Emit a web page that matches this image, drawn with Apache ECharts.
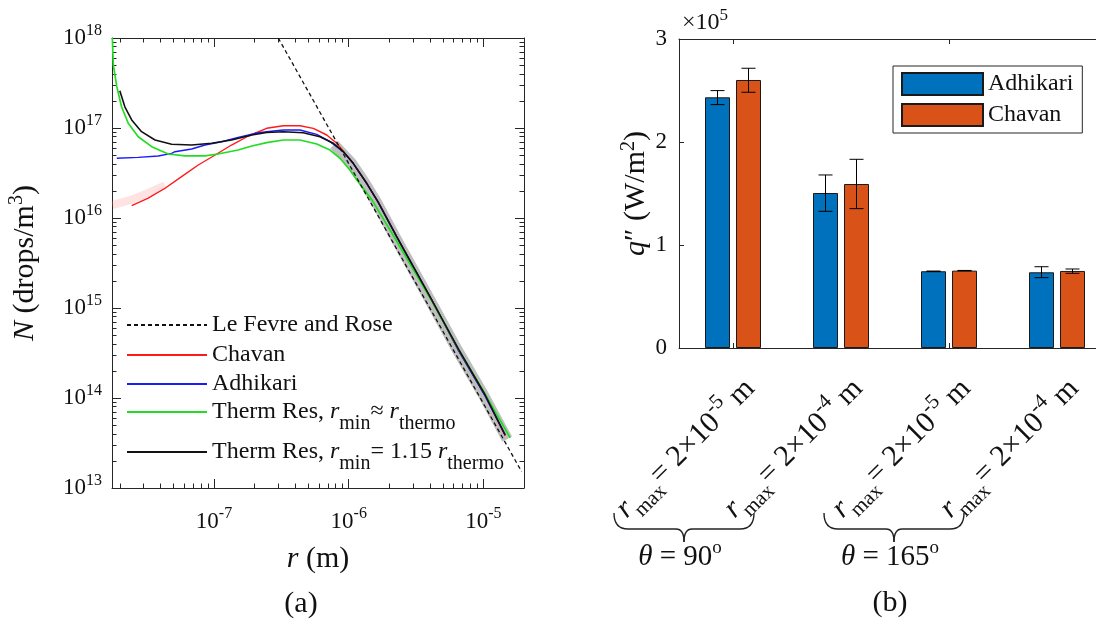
<!DOCTYPE html>
<html>
<head>
<meta charset="utf-8">
<script src="https://cdn.jsdelivr.net/npm/echarts@6/dist/echarts.min.js"></script>
<style>html,body{margin:0;padding:0;background:#fff}#c{width:1096px;height:621px}</style>
</head>
<body>
<div id="c"></div>
<script>
// ================= DATA =================
// (a) Droplet size distribution: pairs of [r (m), N (drops/m^3)]
const leFevreRose = [[3.0e-7, 1.0e18], [1.92e-5, 1.52e13]];
const chavanCurve = [
  [2.45e-8, 1.37e16], [3.25e-8, 1.66e16], [4.33e-8, 2.14e16], [5.75e-8, 2.88e16],
  [7.64e-8, 3.88e16], [1.02e-7, 5.01e16], [1.35e-7, 6.47e16], [1.80e-7, 8.15e16],
  [2.46e-7, 9.92e16], [3.27e-7, 1.06e17], [4.35e-7, 1.06e17], [5.46e-7, 9.92e16],
  [6.87e-7, 8.36e16], [8.15e-7, 6.76e16], [1.08e-6, 4.05e16], [1.36e-6, 2.43e16],
  [1.65e-6, 1.51e16], [2.27e-6, 6.2e15], [4.13e-6, 1.23e15], [6.59e-6, 3.3e14],
  [1.03e-5, 1.06e14], [1.45e-5, 3.8e13]
];
const adhikariCurve = [
  [1.90e-8, 4.61e16], [2.74e-8, 4.72e16], [3.86e-8, 4.89e16], [4.85e-8, 5.23e16],
  [5.13e-8, 5.45e16], [6.83e-8, 5.85e16], [8.57e-8, 6.47e16], [1.14e-7, 7.04e16],
  [1.51e-7, 7.88e16], [2.02e-7, 8.73e16], [2.46e-7, 9.10e16], [3.27e-7, 9.50e16],
  [4.35e-7, 9.50e16], [5.79e-7, 8.51e16], [7.26e-7, 7.04e16], [9.12e-7, 5.45e16],
  [1.08e-6, 4.05e16], [1.36e-6, 2.43e16], [1.65e-6, 1.51e16], [2.27e-6, 6.2e15],
  [4.13e-6, 1.23e15], [6.59e-6, 3.3e14], [1.03e-5, 1.05e14], [1.45e-5, 3.9e13]
];
const thermResApprox = [
  [1.76e-8, 1.0e18], [1.79e-8, 5.0e17], [1.90e-8, 2.88e17], [2.06e-8, 1.72e17],
  [2.31e-8, 1.13e17], [2.74e-8, 8.0e16], [3.45e-8, 6.2e16], [4.58e-8, 5.14e16],
  [6.09e-8, 4.89e16], [8.57e-8, 4.89e16], [1.07e-7, 5.14e16], [1.51e-7, 5.69e16],
  [1.91e-7, 6.31e16], [2.46e-7, 6.87e16], [3.27e-7, 7.36e16], [4.35e-7, 7.36e16],
  [5.79e-7, 6.64e16], [7.26e-7, 5.69e16], [8.62e-7, 4.61e16], [1.02e-6, 3.41e16],
  [1.15e-6, 2.64e16], [1.49e-6, 1.58e16], [2.2e-6, 6.0e15], [4.13e-6, 1.2e15],
  [6.59e-6, 3.4e14], [1.03e-5, 1.1e14], [1.58e-5, 3.6e13]
];
const thermRes115 = [
  [2.00e-8, 2.60e17], [2.18e-8, 1.72e17], [2.45e-8, 1.23e17], [2.90e-8, 9.10e16],
  [3.65e-8, 7.36e16], [4.85e-8, 6.59e16], [6.83e-8, 6.47e16], [9.61e-8, 6.76e16],
  [1.35e-7, 7.36e16], [1.91e-7, 8.36e16], [2.46e-7, 8.9e16], [3.27e-7, 9.1e16],
  [4.60e-7, 8.87e16], [6.12e-7, 8.0e16], [7.69e-7, 6.76e16], [9.12e-7, 5.45e16],
  [1.08e-6, 4.05e16], [1.36e-6, 2.43e16], [1.65e-6, 1.51e16], [2.27e-6, 6.2e15],
  [4.13e-6, 1.23e15], [6.59e-6, 3.41e14], [1.03e-5, 1.08e14], [1.45e-5, 3.88e13]
];
// shaded uncertainty bands (centre lines)
const grayBand = [
  [7.8e-7, 6.5e16], [1.05e-6, 4.05e16], [1.32e-6, 2.43e16], [1.60e-6, 1.51e16],
  [2.20e-6, 6.2e15], [4.0e-6, 1.23e15], [6.4e-6, 3.41e14], [1.0e-5, 1.08e14], [1.5e-5, 3.5e13]
];
const chavanBand = [
  [1.76e-8, 1.39e16], [2.45e-8, 1.6e16], [3.25e-8, 1.9e16], [4.33e-8, 2.3e16]
];

// (b) Heat flux q'' (W/m^2)
const barCategories = ['θ=90°, r_max=2e-5 m', 'θ=90°, r_max=2e-4 m', 'θ=165°, r_max=2e-5 m', 'θ=165°, r_max=2e-4 m'];
const rmaxExponent = [-5, -4, -5, -4];
const thetaGroups = [{label: '90', first: 0, last: 1}, {label: '165', first: 2, last: 3}];
const adhikariQ     = [243400, 150500, 74500, 73500];
const adhikariQLow  = [236300, 132700, 74300, 68300];
const adhikariQHigh = [249900, 168000, 74700, 78900];
const chavanQ       = [260200, 159200, 75100, 74800];
const chavanQLow    = [248300, 135300, 74900, 72500];
const chavanQHigh   = [271600, 183200, 75300, 76700];

// ================= STYLE =================
const FONT = "'Liberation Serif', 'Times New Roman', serif";
const INK = '#111';
const AXIS = '#262626';
const xMinR = 1.75e-8, xMaxR = 2.0e-5, yMinN = 1e13, yMaxN = 1e18;

function minorLogTicks(lo, hi) {
  const out = [], a = Math.log10(lo), b = Math.log10(hi);
  for (let n = Math.floor(a); n <= Math.ceil(b); n++) {
    for (let k = 2; k <= 9; k++) {
      const v = Math.log10(k) + n;
      if (v > a && v < b) out.push(v);
    }
  }
  return out;
}
function decadeLabel(v) {
  const e = Math.log10(v), n = Math.round(e);
  if (Math.abs(e - n) > 1e-6) return '';
  return '{b|10}{s|' + n + '}';
}
const expRich = {
  b: {fontFamily: FONT, fontSize: 23, lineHeight: 23, verticalAlign: 'bottom', color: INK},
  s: {fontFamily: FONT, fontSize: 16, lineHeight: 16, verticalAlign: 'bottom', padding: [0, 0, 11, 0], color: INK}
};
const titleRich = {
  t: {fontFamily: FONT, fontSize: 30, lineHeight: 30, verticalAlign: 'bottom', color: INK},
  i: {fontFamily: FONT, fontSize: 30, lineHeight: 30, verticalAlign: 'bottom', fontStyle: 'italic', color: INK},
  s: {fontFamily: FONT, fontSize: 20, lineHeight: 20, verticalAlign: 'bottom', padding: [0, 0, 13, 0], color: INK}
};
const rotRich = {
  t: {fontFamily: FONT, fontSize: 30, lineHeight: 30, verticalAlign: 'top', padding: [10, 0, 0, 0], color: INK},
  i: {fontFamily: FONT, fontSize: 30, lineHeight: 30, verticalAlign: 'top', padding: [10, 0, 0, 0], fontStyle: 'italic', color: INK},
  sub: {fontFamily: FONT, fontSize: 21, lineHeight: 21, verticalAlign: 'top', padding: [27, 0, 0, 0], color: INK},
  sup: {fontFamily: FONT, fontSize: 21, lineHeight: 21, verticalAlign: 'top', padding: [4, 0, 0, 0], color: INK}
};
const legRich = {
  t: {fontFamily: FONT, fontSize: 24, lineHeight: 24, verticalAlign: 'top', color: INK},
  i: {fontFamily: FONT, fontSize: 24, lineHeight: 24, verticalAlign: 'top', fontStyle: 'italic', color: INK},
  sub: {fontFamily: FONT, fontSize: 20, lineHeight: 20, verticalAlign: 'top', padding: [14, 0, 0, 0], color: INK}
};
const legendText = {
  'Le Fevre and Rose': '{t|Le Fevre and Rose}',
  'Chavan': '{t|Chavan}',
  'Adhikari': '{t|Adhikari}',
  'Therm Res, r_min≈r_thermo': '{t|Therm Res, }{i|r}{sub|min}{t|≈ }{i|r}{sub|thermo}',
  'Therm Res, r_min=1.15 r_thermo': '{t|Therm Res, }{i|r}{sub|min}{t|= 1.15 }{i|r}{sub|thermo}'
};
const barLegendText = {'Adhikari heat flux': 'Adhikari', 'Chavan heat flux': 'Chavan'};

const axisLine = {show: true, onZero: false, lineStyle: {color: AXIS, width: 1}};
const tickStyle = {color: AXIS, width: 1};
const xMinor = minorLogTicks(xMinR, xMaxR);
const yMinor = minorLogTicks(yMinN, yMaxN);

function majorLogAxis(extra) {
  return Object.assign({
    type: 'log', logBase: 10, axisLine: axisLine,
    axisTick: {show: true, inside: true, length: 9, lineStyle: tickStyle},
    minorTick: {show: false}, splitLine: {show: false}, axisLabel: {show: false}
  }, extra);
}
function minorAxis(extra) {
  return Object.assign({
    type: 'value', axisLine: {show: false, onZero: false},
    axisTick: {show: true, inside: true, length: 4.5, lineStyle: tickStyle},
    axisLabel: {show: false}, splitLine: {show: false}, minorTick: {show: false}
  }, extra);
}
function lineSeries(name, data, color, width, extra) {
  return Object.assign({
    name, type: 'line', xAxisIndex: 0, yAxisIndex: 0, data,
    symbol: 'none', smooth: false, silent: true,
    lineStyle: {color, width}, itemStyle: {color}
  }, extra || {});
}
function errorBars(name, low, high, offset) {
  return {
    type: 'custom', name, xAxisIndex: 4, yAxisIndex: 4, z: 10, silent: true,
    data: low.map((lo, i) => [i, lo, high[i]]),
    renderItem(params, api) {
      const i = api.value(0);
      const top = api.coord([i, api.value(2)]);
      const bot = api.coord([i, api.value(1)]);
      const x = top[0] + offset, cap = 7;
      const style = {stroke: '#000', lineWidth: 1, fill: null};
      return {type: 'group', children: [
        {type: 'line', shape: {x1: x, y1: top[1], x2: x, y2: bot[1]}, style},
        {type: 'line', shape: {x1: x - cap, y1: top[1], x2: x + cap, y2: top[1]}, style},
        {type: 'line', shape: {x1: x - cap, y1: bot[1], x2: x + cap, y2: bot[1]}, style}
      ]};
    }
  };
}
const lineLegendRows = [
  {name: 'Le Fevre and Rose', top: 313},
  {name: 'Chavan', top: 343},
  {name: 'Adhikari', top: 372},
  {name: 'Therm Res, r_min≈r_thermo', top: 400},
  {name: 'Therm Res, r_min=1.15 r_thermo', top: 440}
];

const option = {
  animation: false,
  backgroundColor: '#fff',
  grid: [
    {left: 112, top: 38, width: 412, height: 450, outerBoundsMode: 'none', containLabel: false},
    {left: 679, top: 39, width: 432, height: 309, outerBoundsMode: 'none', containLabel: false},
    {left: 689, top: 39, width: 432, height: 309, outerBoundsMode: 'none', containLabel: false}
  ],
  xAxis: [
    majorLogAxis({gridIndex: 0, position: 'bottom', min: xMinR, max: xMaxR,
      axisLabel: {show: true, margin: 22, formatter: decadeLabel, rich: expRich},
      name: '{i|r}{t| (m)}', nameLocation: 'middle', nameGap: 56, nameTextStyle: {rich: titleRich}}),
    majorLogAxis({gridIndex: 0, position: 'top', min: xMinR, max: xMaxR}),
    minorAxis({gridIndex: 0, position: 'bottom', min: Math.log10(xMinR), max: Math.log10(xMaxR),
      axisTick: {show: true, inside: true, length: 4.5, lineStyle: tickStyle, customValues: xMinor}}),
    minorAxis({gridIndex: 0, position: 'top', min: Math.log10(xMinR), max: Math.log10(xMaxR),
      axisTick: {show: true, inside: true, length: 4.5, lineStyle: tickStyle, customValues: xMinor}}),
    {type: 'category', gridIndex: 1, position: 'bottom', data: barCategories, axisLine: axisLine,
      axisTick: {show: true, inside: true, alignWithLabel: true, length: 5, lineStyle: tickStyle},
      axisLabel: {show: false}, splitLine: {show: false}},
    {type: 'category', gridIndex: 1, position: 'top', data: barCategories, axisLine: axisLine,
      axisTick: {show: true, inside: true, alignWithLabel: true, length: 5, lineStyle: tickStyle},
      axisLabel: {show: false}, splitLine: {show: false}},
    {type: 'category', gridIndex: 2, position: 'bottom', data: barCategories,
      axisLine: {show: false}, axisTick: {show: false}, splitLine: {show: false},
      axisLabel: {show: true, interval: 0, rotate: 45, margin: 29, rich: rotRich,
        formatter: (v, i) => '{i|r}{sub|max}{t|= 2×10}{sup|' + rmaxExponent[i] + '}{t| m}'}}
  ],
  yAxis: [
    majorLogAxis({gridIndex: 0, position: 'left', min: yMinN, max: yMaxN,
      axisLabel: {show: true, margin: 10, formatter: decadeLabel, rich: expRich},
      name: '{i|N}{t| (drops/m}{s|3}{t|)}', nameLocation: 'middle', nameGap: 72, nameRotate: 90,
      nameTextStyle: {rich: titleRich}}),
    majorLogAxis({gridIndex: 0, position: 'right', min: yMinN, max: yMaxN}),
    minorAxis({gridIndex: 0, position: 'left', min: Math.log10(yMinN), max: Math.log10(yMaxN),
      axisTick: {show: true, inside: true, length: 4.5, lineStyle: tickStyle, customValues: yMinor}}),
    minorAxis({gridIndex: 0, position: 'right', min: Math.log10(yMinN), max: Math.log10(yMaxN),
      axisTick: {show: true, inside: true, length: 4.5, lineStyle: tickStyle, customValues: yMinor}}),
    {type: 'value', gridIndex: 1, position: 'left', min: 0, max: 300000, interval: 100000,
      axisLine: axisLine, axisTick: {show: true, inside: true, length: 5, lineStyle: tickStyle},
      splitLine: {show: false},
      axisLabel: {margin: 12, fontFamily: FONT, fontSize: 23, color: INK, formatter: v => String(v / 1e5)},
      name: '{i|q}{t|″ (W/m}{s|2}{t|)}', nameLocation: 'middle', nameGap: 24, nameRotate: 90,
      nameTextStyle: {rich: titleRich}},
    {type: 'value', gridIndex: 2, show: false, min: 0, max: 1}
  ],
  legend: lineLegendRows.map(r => ({
    data: [r.name], orient: 'vertical', left: 126, top: r.top, padding: 0,
    itemWidth: 80, itemHeight: 14, selectedMode: false,
    itemStyle: {opacity: 0},
    formatter: n => legendText[n], textStyle: {rich: legRich, fontFamily: FONT, fontSize: 24, color: INK}
  })).concat([{
    data: ['Adhikari heat flux', 'Chavan heat flux'], orient: 'vertical', left: 893, top: 66,
    padding: [6, 9, 6, 8], itemWidth: 81, itemHeight: 22, itemGap: 7, icon: 'rect', selectedMode: false,
    borderColor: AXIS, borderWidth: 1, backgroundColor: '#fff',
    formatter: n => barLegendText[n],
    textStyle: {fontFamily: FONT, fontSize: 24, lineHeight: 22, color: INK}
  }]),
  series: [
    lineSeries('grayBand', grayBand, 'rgba(110,110,110,0.45)', 11, {z: 1}),
    lineSeries('pinkBand', chavanBand, 'rgba(255,140,140,0.25)', 8, {z: 1}),
    lineSeries('Chavan', chavanCurve, '#ff1a1a', 1.4),
    lineSeries('Adhikari', adhikariCurve, '#1a1aff', 1.4),
    lineSeries('Therm Res, r_min≈r_thermo', thermResApprox, '#22dd22', 1.7),
    lineSeries('Therm Res, r_min=1.15 r_thermo', thermRes115, '#111111', 1.6),
    lineSeries('Le Fevre and Rose', leFevreRose, '#111111', 1.3, {lineStyle: {color: '#111', width: 1.3, type: [4, 3]}}),
    {name: 'Adhikari heat flux', type: 'bar', xAxisIndex: 4, yAxisIndex: 4, data: adhikariQ,
      barWidth: 25, barGap: '24%', silent: true,
      itemStyle: {color: '#0072BD', borderColor: '#1a1a1a', borderWidth: 1}},
    {name: 'Chavan heat flux', type: 'bar', xAxisIndex: 4, yAxisIndex: 4, data: chavanQ,
      barWidth: 25, barGap: '24%', silent: true,
      itemStyle: {color: '#D95319', borderColor: '#1a1a1a', borderWidth: 1}},
    errorBars('Adhikari error', adhikariQLow, adhikariQHigh, -15.5),
    errorBars('Chavan error', chavanQLow, chavanQHigh, 15.5)
  ]
};

const chart = echarts.init(document.getElementById('c'), null, {renderer: 'canvas'});
chart.setOption(option);

// ---- annotations: braces for angle groups, panel letters, exponent multiplier
const braceTop = 513, braceMid = 529, braceTip = 542, braceHalf = 70, braceShift = 103;
const gfx = [];
const bStyle = {stroke: '#222', lineWidth: 1.4, fill: null};
thetaGroups.forEach((g, gi) => {
  const x1 = chart.convertToPixel({xAxisIndex: 4}, g.first);
  const x2 = chart.convertToPixel({xAxisIndex: 4}, g.last);
  const c = (x1 + x2) / 2 - braceShift - gi * 6, L = c - braceHalf, R = c + braceHalf;
  gfx.push(
    {type: 'bezierCurve', shape: {x1: L, y1: braceTop, cpx1: L, cpy1: braceMid, x2: L + 14, y2: braceMid}, style: bStyle},
    {type: 'line', shape: {x1: L + 14, y1: braceMid, x2: c - 8, y2: braceMid}, style: bStyle},
    {type: 'bezierCurve', shape: {x1: c - 8, y1: braceMid, cpx1: c, cpy1: braceMid, x2: c, y2: braceTip}, style: bStyle},
    {type: 'bezierCurve', shape: {x1: c, y1: braceTip, cpx1: c, cpy1: braceMid, x2: c + 8, y2: braceMid}, style: bStyle},
    {type: 'line', shape: {x1: c + 8, y1: braceMid, x2: R - 14, y2: braceMid}, style: bStyle},
    {type: 'bezierCurve', shape: {x1: R - 14, y1: braceMid, cpx1: R, cpy1: braceMid, x2: R, y2: braceTop}, style: bStyle},
    {type: 'text', style: {x: c - 4, y: 557, text: '{i|θ}{t| = ' + g.label + '}{s|o}',
      align: 'center', verticalAlign: 'middle', textAlign: 'center', textVerticalAlign: 'middle',
      rich: {
        t: {fontFamily: FONT, fontSize: 29, lineHeight: 29, verticalAlign: 'bottom', fill: INK, color: INK},
        i: {fontFamily: FONT, fontSize: 29, lineHeight: 29, verticalAlign: 'bottom', fontStyle: 'italic', fill: INK, color: INK},
        s: {fontFamily: FONT, fontSize: 19, lineHeight: 19, verticalAlign: 'bottom', padding: [0, 0, 14, 0], fill: INK, color: INK}
      }}}
  );
});
gfx.push(
  {type: 'text', style: {x: 301, y: 604, text: '(a)', fontFamily: FONT, fontSize: 30, fill: INK,
    align: 'center', verticalAlign: 'middle', textAlign: 'center', textVerticalAlign: 'middle'}},
  {type: 'text', style: {x: 890, y: 603, text: '(b)', fontFamily: FONT, fontSize: 30, fill: INK,
    align: 'center', verticalAlign: 'middle', textAlign: 'center', textVerticalAlign: 'middle'}},
  {type: 'text', style: {x: 682, y: 23, text: '{t|×10}{s|5}',
    align: 'left', verticalAlign: 'middle', textAlign: 'left', textVerticalAlign: 'middle',
    rich: {
      t: {fontFamily: FONT, fontSize: 24, lineHeight: 24, verticalAlign: 'bottom', fill: INK, color: INK},
      s: {fontFamily: FONT, fontSize: 17, lineHeight: 17, verticalAlign: 'bottom', padding: [0, 0, 11, 0], fill: INK, color: INK}
    }}}
);
chart.setOption({graphic: gfx});
</script>
</body>
</html>
